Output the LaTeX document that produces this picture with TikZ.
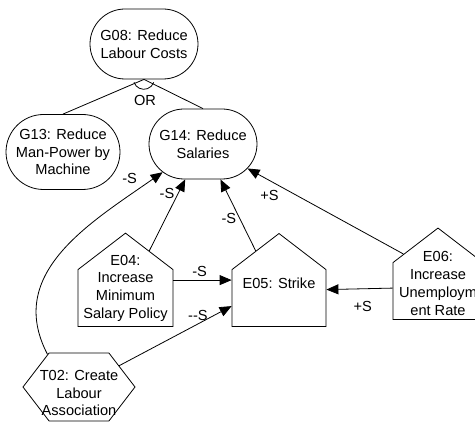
\documentclass[tikz,border=0pt]{standalone}
\usepackage{fontspec}
\setmainfont{Liberation Sans}
\usetikzlibrary{
    arrows.meta,
    shapes.misc,
    shapes.symbols
}

\begin{document}
\begin{tikzpicture}[x=1pt, y=1pt, line width=0.8pt,
    font=\fontsize{14.6}{17.7}\selectfont,
    goal/.style={draw, rounded rectangle, align=center, inner sep=2pt,
        minimum width=112pt, minimum height=70pt},
    event/.style={draw, signal, signal to=north, signal pointer angle=105,
        inner sep=0pt, minimum width=95pt, minimum height=57pt},
    task/.style={draw, signal, signal to=west and east, signal pointer angle=105,
        inner sep=0pt, minimum width=112pt, minimum height=68pt},
    txt/.style={align=center, inner sep=0pt},
    link/.style={-{Triangle[length=12pt, width=10pt]}}
]
\useasboundingbox (0, 0) rectangle (475, 423);
\node[goal] (g08) at (144, 379) {G08: Reduce\\Labour Costs};
\node[goal, minimum width=105pt, minimum height=75pt] (g13) at (63, 271)
    {G13: Reduce\\Man-Power by\\Machine};
\node[goal] (g14) at (203, 279) {G14: Reduce\\Salaries};
\node[event, anchor=south] (e04) at (125.5, 96) {};
\node[event, anchor=south, minimum width=94pt] (e05) at (279, 96) {};
\node[event, anchor=south, minimum width=90pt] (e06) at (438, 103) {};
\node[task] (t02) at (79, 36) {};
\node[txt] (e04t) at (125.5, 135) {E04:\\Increase\\Minimum\\Salary Policy};
\node[txt] (e05t) at (279, 140) {E05: Strike};
\node[txt] (e06t) at (438, 139.5) {E06:\\Increase\\Unemploym\\ent Rate};
\node[txt] (t02t) at (79, 30) {T02: Create\\Labour\\Association};
% OR decomposition
\coordinate (or) at (g08.south);
\draw (g13.north) -- (or) -- (g14.north);
\draw (or) ++(-10, -3) arc[start angle=200, end angle=340, radius=10.5];
\node (ort) at (145, 323) {OR};
% contributions
\draw[link] (e04) -- node[pos=0.8, left] {-S} (g14);
\draw[link] (e05) -- node[pos=0.45, left] {-S} (g14);
\draw[link] (e06.133) -- node[pos=0.86, below=6pt] {+S} (g14);
\draw[link] (t02.134) .. controls (5, 150) and (90, 200) .. node[pos=0.9, above left] {-S} (g14);
\draw[link] ([yshift=18pt]e04.east) -- node[pos=0.45, above] {-S} ([yshift=18pt]e05.west);
\draw[link] (t02) -- node[pos=0.7, above] {-{}-S} ([yshift=-8pt]e05.west);
\draw[link] ([yshift=3pt]e06.west) -- node[pos=0.45, below=9pt] {+S} ([yshift=8.5pt]e05.east);
\end{tikzpicture}
\end{document}
